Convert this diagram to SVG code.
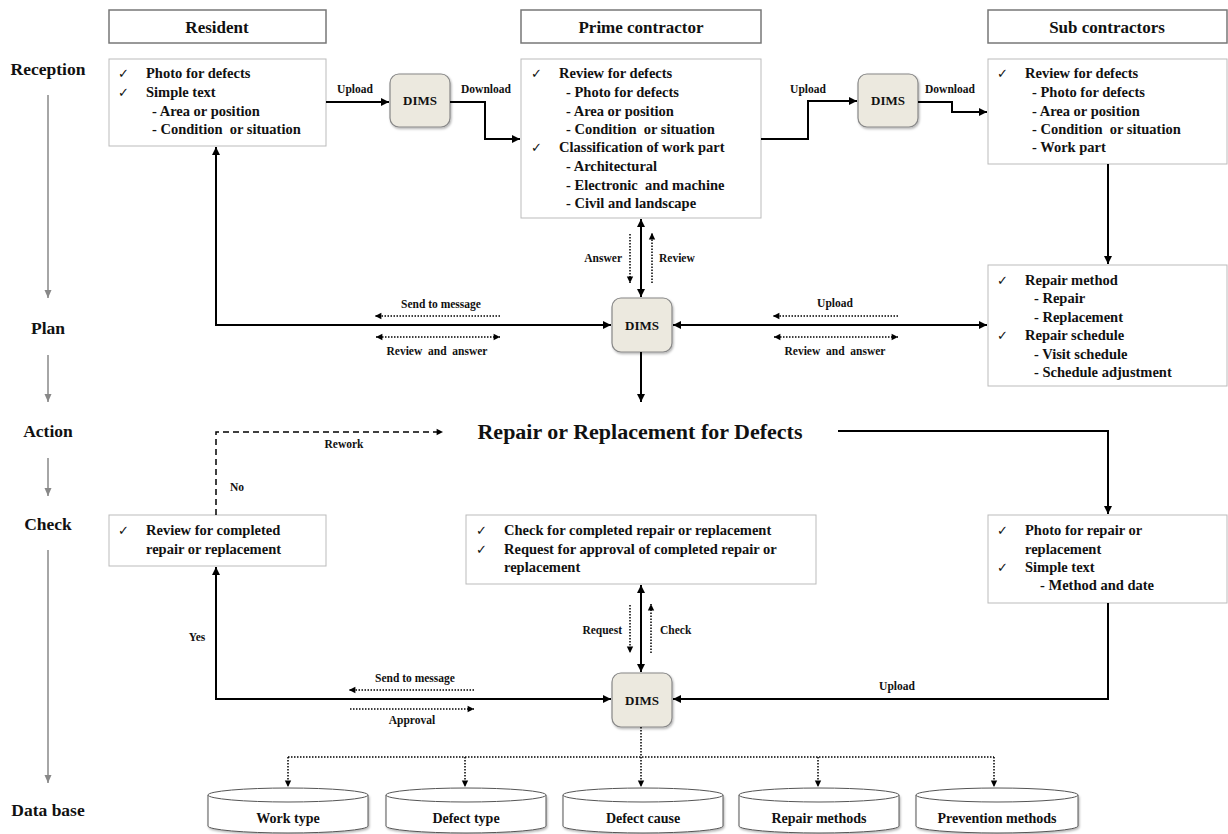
<svg xmlns="http://www.w3.org/2000/svg" width="1228" height="834" viewBox="0 0 1228 834">
<style>
text{font-family:"Liberation Serif","Times New Roman",serif;font-weight:bold;fill:#111;white-space:pre;}
.hdr{font-size:17px;text-anchor:middle;}
.stage{font-size:17.5px;text-anchor:middle;}
.bt{font-size:14.5px;}
.ck{font-family:"DejaVu Sans",sans-serif;font-size:13px;font-weight:normal;}
.lbl{font-size:11.5px;}
.mid{text-anchor:middle;}
.end{text-anchor:end;}
.title{font-size:22px;text-anchor:middle;}
.dims{font-size:13px;text-anchor:middle;}
.db{font-size:14px;text-anchor:middle;}
.hbox{fill:#fff;stroke:#777;stroke-width:1.5;}
.box{fill:#fff;stroke:#bbb;stroke-width:1;}
.dbox{fill:#ece9df;stroke:#888;stroke-width:1.2;}
.cyl{fill:#fff;stroke:#555;stroke-width:1;}
.solid{fill:none;stroke:#000;stroke-width:2;}
.dot{fill:none;stroke:#000;stroke-width:1.5;stroke-dasharray:1.5 1.5;}
.dash{fill:none;stroke:#000;stroke-width:1.5;stroke-dasharray:6 4;}
.axis{fill:none;stroke:#888;stroke-width:1.5;}
</style>
<defs>
<marker id="a" markerUnits="userSpaceOnUse" markerWidth="10" markerHeight="10" viewBox="0 0 10 10" refX="9" refY="5" orient="auto-start-reverse"><path d="M1,1 L9,5 L1,9 Z" fill="#000"/></marker>
<marker id="ad" markerUnits="userSpaceOnUse" markerWidth="8" markerHeight="8" viewBox="0 0 10 10" refX="9" refY="5" orient="auto-start-reverse"><path d="M1,1 L9,5 L1,9 Z" fill="#000"/></marker>
<marker id="ag" markerUnits="userSpaceOnUse" markerWidth="10" markerHeight="10" viewBox="0 0 10 10" refX="9" refY="5" orient="auto"><path d="M1,1.5 L9,5 L1,8.5 Z" fill="#888"/></marker>
<filter id="sh" x="-20%" y="-20%" width="150%" height="150%"><feDropShadow dx="1" dy="1.5" stdDeviation="1.2" flood-color="#000" flood-opacity="0.3"/></filter>
</defs>

<g id="stages">
<text class="stage" x="48" y="75">Reception</text>
<text class="stage" x="48" y="334">Plan</text>
<text class="stage" x="48" y="437">Action</text>
<text class="stage" x="48" y="530">Check</text>
<text class="stage" x="48" y="816">Data base</text>
<path class="axis" d="M48,95 V298" marker-end="url(#ag)"/>
<path class="axis" d="M48,355 V402" marker-end="url(#ag)"/>
<path class="axis" d="M48,458 V496" marker-end="url(#ag)"/>
<path class="axis" d="M48,550 V783" marker-end="url(#ag)"/>
</g>

<g id="hdr-resident"><rect class="hbox" x="109" y="10" width="217" height="33"/><text class="hdr" x="217" y="33">Resident</text></g>
<g id="hdr-prime"><rect class="hbox" x="521" y="10" width="240" height="33"/><text class="hdr" x="641" y="33">Prime contractor</text></g>
<g id="hdr-sub"><rect class="hbox" x="988" y="10" width="239" height="33"/><text class="hdr" x="1107" y="33">Sub contractors</text></g>

<g id="resident-reception">
<rect class="box" x="109" y="59" width="217" height="87"/>
<text class="ck" x="118" y="78">✓</text><text class="bt" x="146" y="78">Photo for defects</text>
<text class="ck" x="118" y="97">✓</text><text class="bt" x="146" y="97">Simple text</text>
<text class="bt" x="152" y="116">- Area or position</text>
<text class="bt" x="152" y="134">- Condition  or situation</text>
</g>

<g id="prime-reception">
<rect class="box" x="521" y="59" width="240" height="159"/>
<text class="ck" x="531" y="78">✓</text><text class="bt" x="559" y="78">Review for defects</text>
<text class="bt" x="566" y="97">- Photo for defects</text>
<text class="bt" x="566" y="116">- Area or position</text>
<text class="bt" x="566" y="134">- Condition  or situation</text>
<text class="ck" x="531" y="152">✓</text><text class="bt" x="559" y="152">Classification of work part</text>
<text class="bt" x="566" y="171">- Architectural</text>
<text class="bt" x="566" y="190">- Electronic  and machine</text>
<text class="bt" x="566" y="208">- Civil and landscape</text>
</g>

<g id="sub-reception">
<rect class="box" x="988" y="59" width="239" height="105"/>
<text class="ck" x="997" y="78">✓</text><text class="bt" x="1025" y="78">Review for defects</text>
<text class="bt" x="1032" y="97">- Photo for defects</text>
<text class="bt" x="1032" y="116">- Area or position</text>
<text class="bt" x="1032" y="134">- Condition  or situation</text>
<text class="bt" x="1032" y="152">- Work part</text>
</g>

<g id="sub-plan">
<rect class="box" x="988" y="265" width="239" height="121"/>
<text class="ck" x="997" y="285">✓</text><text class="bt" x="1025" y="285">Repair method</text>
<text class="bt" x="1034" y="303">- Repair</text>
<text class="bt" x="1034" y="322">- Replacement</text>
<text class="ck" x="997" y="340">✓</text><text class="bt" x="1025" y="340">Repair schedule</text>
<text class="bt" x="1034" y="359">- Visit schedule</text>
<text class="bt" x="1034" y="377">- Schedule adjustment</text>
</g>

<g id="dims1"><rect class="dbox" x="390" y="74" width="60" height="53" rx="9" filter="url(#sh)"/><text class="dims" x="420" y="105">DIMS</text></g>
<g id="dims2"><rect class="dbox" x="858" y="74" width="60" height="53" rx="9" filter="url(#sh)"/><text class="dims" x="888" y="105">DIMS</text></g>
<g id="dims3"><rect class="dbox" x="612" y="298" width="60" height="54" rx="9" filter="url(#sh)"/><text class="dims" x="642" y="330">DIMS</text></g>
<g id="dims4"><rect class="dbox" x="612" y="673" width="60" height="54" rx="9" filter="url(#sh)"/><text class="dims" x="642" y="705">DIMS</text></g>

<g id="action"><text class="title" x="640" y="439">Repair or Replacement for Defects</text></g>

<g id="resident-check">
<rect class="box" x="109" y="515" width="217" height="51"/>
<text class="ck" x="118" y="535">✓</text><text class="bt" x="146" y="535">Review for completed</text>
<text class="bt" x="146" y="554">repair or replacement</text>
</g>

<g id="prime-check">
<rect class="box" x="466" y="515" width="350" height="69"/>
<text class="ck" x="476" y="535">✓</text><text class="bt" x="504" y="535">Check for completed repair or replacement</text>
<text class="ck" x="476" y="554">✓</text><text class="bt" x="504" y="554">Request for approval of completed repair or</text>
<text class="bt" x="504" y="572">replacement</text>
</g>

<g id="sub-check">
<rect class="box" x="988" y="515" width="239" height="88"/>
<text class="ck" x="997" y="535">✓</text><text class="bt" x="1025" y="535">Photo for repair or</text>
<text class="bt" x="1025" y="554">replacement</text>
<text class="ck" x="997" y="572">✓</text><text class="bt" x="1025" y="572">Simple text</text>
<text class="bt" x="1040" y="590">- Method and date</text>
</g>

<g id="db-worktype"><path class="cyl" d="M208,795 V826 A80,7 0 0 0 368,826 V795" filter="url(#sh)"/><ellipse class="cyl" cx="288" cy="795" rx="80" ry="7"/><text class="db" x="288" y="823">Work type</text></g>
<g id="db-defecttype"><path class="cyl" d="M386,795 V826 A80,7 0 0 0 546,826 V795" filter="url(#sh)"/><ellipse class="cyl" cx="466" cy="795" rx="80" ry="7"/><text class="db" x="466" y="823">Defect type</text></g>
<g id="db-defectcause"><path class="cyl" d="M563,795 V826 A80,7 0 0 0 723,826 V795" filter="url(#sh)"/><ellipse class="cyl" cx="643" cy="795" rx="80" ry="7"/><text class="db" x="643" y="823">Defect cause</text></g>
<g id="db-repair"><path class="cyl" d="M739,795 V826 A80,7 0 0 0 899,826 V795" filter="url(#sh)"/><ellipse class="cyl" cx="819" cy="795" rx="80" ry="7"/><text class="db" x="819" y="823">Repair methods</text></g>
<g id="db-prevention"><path class="cyl" d="M916,795 V826 A81,7 0 0 0 1078,826 V795" filter="url(#sh)"/><ellipse class="cyl" cx="997" cy="795" rx="81" ry="7"/><text class="db" x="997" y="823">Prevention methods</text></g>

<g id="connectors">
<path class="solid" d="M326,102 H389" marker-end="url(#a)"/>
<path class="solid" d="M450,102 H485 V139 H520" marker-end="url(#a)"/>
<path class="solid" d="M761,139 H808 V101 H857" marker-end="url(#a)"/>
<path class="solid" d="M918,102 H952 V112 H987" marker-end="url(#a)"/>
<path class="solid" d="M1108,164 V264" marker-end="url(#a)"/>
<path class="solid" d="M641,219 V297" marker-start="url(#a)" marker-end="url(#a)"/>
<path class="dot" d="M630,234 V283" marker-end="url(#ad)"/>
<path class="dot" d="M652,283 V233" marker-end="url(#ad)"/>
<path class="solid" d="M611,325 H216 V147" marker-start="url(#a)" marker-end="url(#a)"/>
<path class="dot" d="M500,316 H375" marker-end="url(#ad)"/>
<path class="dot" d="M376,337 H500" marker-start="url(#ad)" marker-end="url(#ad)"/>
<path class="solid" d="M673,325 H987" marker-start="url(#a)" marker-end="url(#a)"/>
<path class="dot" d="M898,316 H773" marker-end="url(#ad)"/>
<path class="dot" d="M774,337 H898" marker-start="url(#ad)" marker-end="url(#ad)"/>
<path class="solid" d="M641,352 V402" marker-end="url(#a)"/>
<path class="solid" d="M838,431 H1108 V514" marker-end="url(#a)"/>
<path class="dash" d="M216,515 V432 H443" marker-end="url(#ad)"/>
<path class="solid" d="M641,585 V672" marker-start="url(#a)" marker-end="url(#a)"/>
<path class="dot" d="M630,605 V653" marker-end="url(#ad)"/>
<path class="dot" d="M651,653 V604" marker-end="url(#ad)"/>
<path class="solid" d="M611,699 H216 V567" marker-start="url(#a)" marker-end="url(#a)"/>
<path class="dot" d="M474,690 H349" marker-end="url(#ad)"/>
<path class="dot" d="M350,709 H474" marker-end="url(#ad)"/>
<path class="solid" d="M1108,603 V699 H673" marker-end="url(#a)"/>
<path class="dot" d="M641,727 V757 M288,757 H994"/>
<path class="dot" d="M288,757 V787" marker-end="url(#ad)"/>
<path class="dot" d="M465,757 V787" marker-end="url(#ad)"/>
<path class="dot" d="M641,757 V787" marker-end="url(#ad)"/>
<path class="dot" d="M818,757 V787" marker-end="url(#ad)"/>
<path class="dot" d="M994,757 V787" marker-end="url(#ad)"/>
</g>

<g id="labels">
<text class="lbl mid" x="355" y="93">Upload</text>
<text class="lbl mid" x="486" y="93">Download</text>
<text class="lbl mid" x="808" y="93">Upload</text>
<text class="lbl mid" x="950" y="93">Download</text>
<text class="lbl end" x="622" y="262">Answer</text>
<text class="lbl" x="659" y="262">Review</text>
<text class="lbl mid" x="441" y="308">Send to message</text>
<text class="lbl mid" x="437" y="355">Review  and  answer</text>
<text class="lbl mid" x="835" y="307">Upload</text>
<text class="lbl mid" x="835" y="355">Review  and  answer</text>
<text class="lbl mid" x="344" y="448">Rework</text>
<text class="lbl" x="230" y="491">No</text>
<text class="lbl mid" x="197" y="641">Yes</text>
<text class="lbl end" x="622" y="634">Request</text>
<text class="lbl" x="660" y="634">Check</text>
<text class="lbl mid" x="415" y="682">Send to message</text>
<text class="lbl mid" x="412" y="724">Approval</text>
<text class="lbl mid" x="897" y="690">Upload</text>
</g>
</svg>
